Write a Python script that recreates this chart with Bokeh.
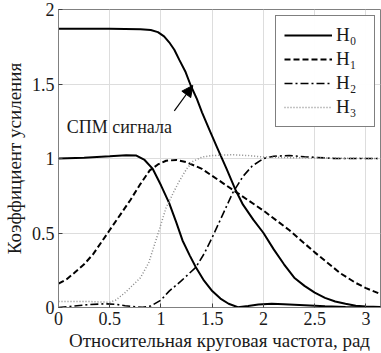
from bokeh.plotting import figure
from bokeh.models import Range1d, Legend, LegendItem, Arrow, NormalHead, FixedTicker, Label
from bokeh.embed import file_html
from bokeh.resources import INLINE
import math

# ---- data ----
psd_x = [0, 0.5, 0.8, 0.9, 0.97, 1.03, 1.08, 1.13, 1.18, 1.24, 1.29, 1.35, 1.40, 1.48, 1.55, 1.64, 1.73, 1.8, 1.9, 2.0, 2.1, 2.2, 2.3, 2.4, 2.5, 2.6, 2.7, 2.8, 2.9, 3.0, math.pi]
psd_y = [1.87, 1.87, 1.868, 1.862, 1.848, 1.82, 1.78, 1.73, 1.66, 1.58, 1.49, 1.40, 1.31, 1.18, 1.07, 0.93, 0.785, 0.69, 0.59, 0.50, 0.39, 0.29, 0.20, 0.145, 0.10, 0.065, 0.04, 0.025, 0.012, 0.006, 0.004]

h0_x = [0, 0.25, 0.5, 0.66, 0.76, 0.84, 0.92, 1.0, 1.08, 1.15, 1.21, 1.28, 1.34, 1.42, 1.5, 1.58, 1.66, 1.75, 1.85, 1.95, 2.08, 2.2, 2.4, 2.6, 2.8, 3.0, math.pi]
h0_y = [1.0, 1.005, 1.015, 1.022, 1.02, 0.99, 0.93, 0.82, 0.70, 0.57, 0.45, 0.35, 0.27, 0.18, 0.11, 0.06, 0.025, 0.002, 0.01, 0.02, 0.025, 0.022, 0.015, 0.008, 0.004, 0.002, 0.002]

h1_x = [0, 0.08, 0.15, 0.25, 0.34, 0.42, 0.5, 0.6, 0.7, 0.8, 0.89, 0.97, 1.05, 1.15, 1.25, 1.4, 1.55, 1.7, 1.85, 2.0, 2.25, 2.5, 2.75, 2.9, 3.0, math.pi]
h1_y = [0.16, 0.19, 0.23, 0.29, 0.36, 0.44, 0.52, 0.62, 0.72, 0.83, 0.92, 0.96, 0.985, 0.99, 0.975, 0.93, 0.86, 0.79, 0.72, 0.65, 0.52, 0.37, 0.23, 0.165, 0.13, 0.09]

h2_x = [0, 0.15, 0.3, 0.45, 0.55, 0.65, 0.75, 0.82, 0.9, 1.0, 1.08, 1.2, 1.34, 1.42, 1.5, 1.6, 1.7, 1.8, 1.89, 2.0, 2.1, 2.25, 2.4, 2.7, math.pi]
h2_y = [0.0, 0.01, 0.02, 0.025, 0.022, 0.012, 0.004, 0.002, 0.01, 0.05, 0.11, 0.18, 0.27, 0.36, 0.47, 0.62, 0.77, 0.88, 0.95, 1.0, 1.015, 1.02, 1.012, 1.0, 1.0]

h3_x = [0, 0.3, 0.5, 0.56, 0.65, 0.8, 0.88, 0.95, 1.05, 1.12, 1.18, 1.25, 1.31, 1.4, 1.5, 1.7, 1.85, 2.0, 2.3, math.pi]
h3_y = [0.04, 0.04, 0.035, 0.05, 0.1, 0.2, 0.3, 0.45, 0.67, 0.77, 0.85, 0.93, 0.98, 1.01, 1.02, 1.025, 1.02, 1.01, 1.005, 1.0]

x_ticks = [0, 0.5, 1, 1.5, 2, 2.5, 3]
y_ticks = [0, 0.5, 1, 1.5, 2]
legend_labels = ["H₀", "H₁", "H₂", "H₃"]
annot_text = "СПМ сигнала"
annot_pos = (0.08, 1.21)
arrow_from = (1.13, 1.32)
arrow_to = (1.31, 1.49)

FONT = "Times New Roman"

p = figure(width=381, height=353, output_backend="svg", toolbar_location=None,
           x_range=Range1d(0, math.pi), y_range=Range1d(0, 2),
           min_border_left=55, min_border_right=1, min_border_top=9, min_border_bottom=46)
p.background_fill_color = "white"
p.border_fill_color = "white"
p.outline_line_color = "#808080"

xa = p.xaxis[0]
ya = p.yaxis[0]
for ax in (xa, ya):
    ax.axis_line_color = "#808080"
    ax.major_tick_line_color = "#404040"
    ax.major_tick_in = 4
    ax.major_tick_out = 0
    ax.minor_tick_line_color = None
    ax.major_label_text_font = FONT
    ax.major_label_text_font_size = "18px"
    ax.major_label_text_color = "#1a1a1a"
    ax.axis_label_text_font = FONT
    ax.axis_label_text_font_size = "19px"
    ax.axis_label_text_font_style = "normal"
    ax.axis_label_text_color = "#1a1a1a"
xa.ticker = FixedTicker(ticks=x_ticks)
ya.ticker = FixedTicker(ticks=y_ticks)
xa.axis_label = "Относительная круговая частота, рад"
ya.axis_label = "Коэффициент усиления"
xa.major_label_standoff = 4
ya.major_label_standoff = 4
xa.axis_label_standoff = 2
ya.axis_label_standoff = 4

p.xgrid.ticker = FixedTicker(ticks=x_ticks)
p.ygrid.ticker = FixedTicker(ticks=y_ticks)
p.grid.grid_line_color = "#dddddd"

p.line(psd_x, psd_y, line_color="black", line_width=2)
r0 = p.line(h0_x, h0_y, line_color="black", line_width=2)
r1 = p.line(h1_x, h1_y, line_color="black", line_width=2, line_dash="6 3")
r2 = p.line(h2_x, h2_y, line_color="black", line_width=1.6, line_dash="8 3 2 3")
r3 = p.line(h3_x, h3_y, line_color="#8a8a8a", line_width=1.5, line_dash="1 2")

legend = Legend(items=[LegendItem(label=l, renderers=[r]) for l, r in zip(legend_labels, [r0, r1, r2, r3])],
                location=(217, 180), margin=0, padding=8, spacing=2,
                glyph_width=48, glyph_height=20, label_height=20, label_width=30, label_standoff=4,
                label_text_font=FONT, label_text_font_size="19px", label_text_color="#1a1a1a",
                border_line_color="black", border_line_width=1, background_fill_color="white")
p.add_layout(legend, "center")

p.add_layout(Label(x=annot_pos[0], y=annot_pos[1], text=annot_text, text_font=FONT,
                   text_font_size="18px", text_color="#1a1a1a", text_baseline="alphabetic"))
p.add_layout(Arrow(x_start=arrow_from[0], y_start=arrow_from[1], x_end=arrow_to[0], y_end=arrow_to[1],
                   line_color="black", line_width=1.2,
                   end=NormalHead(size=11, fill_color="black", line_color="black")))

open("out.html", "w").write(file_html(p, INLINE))
